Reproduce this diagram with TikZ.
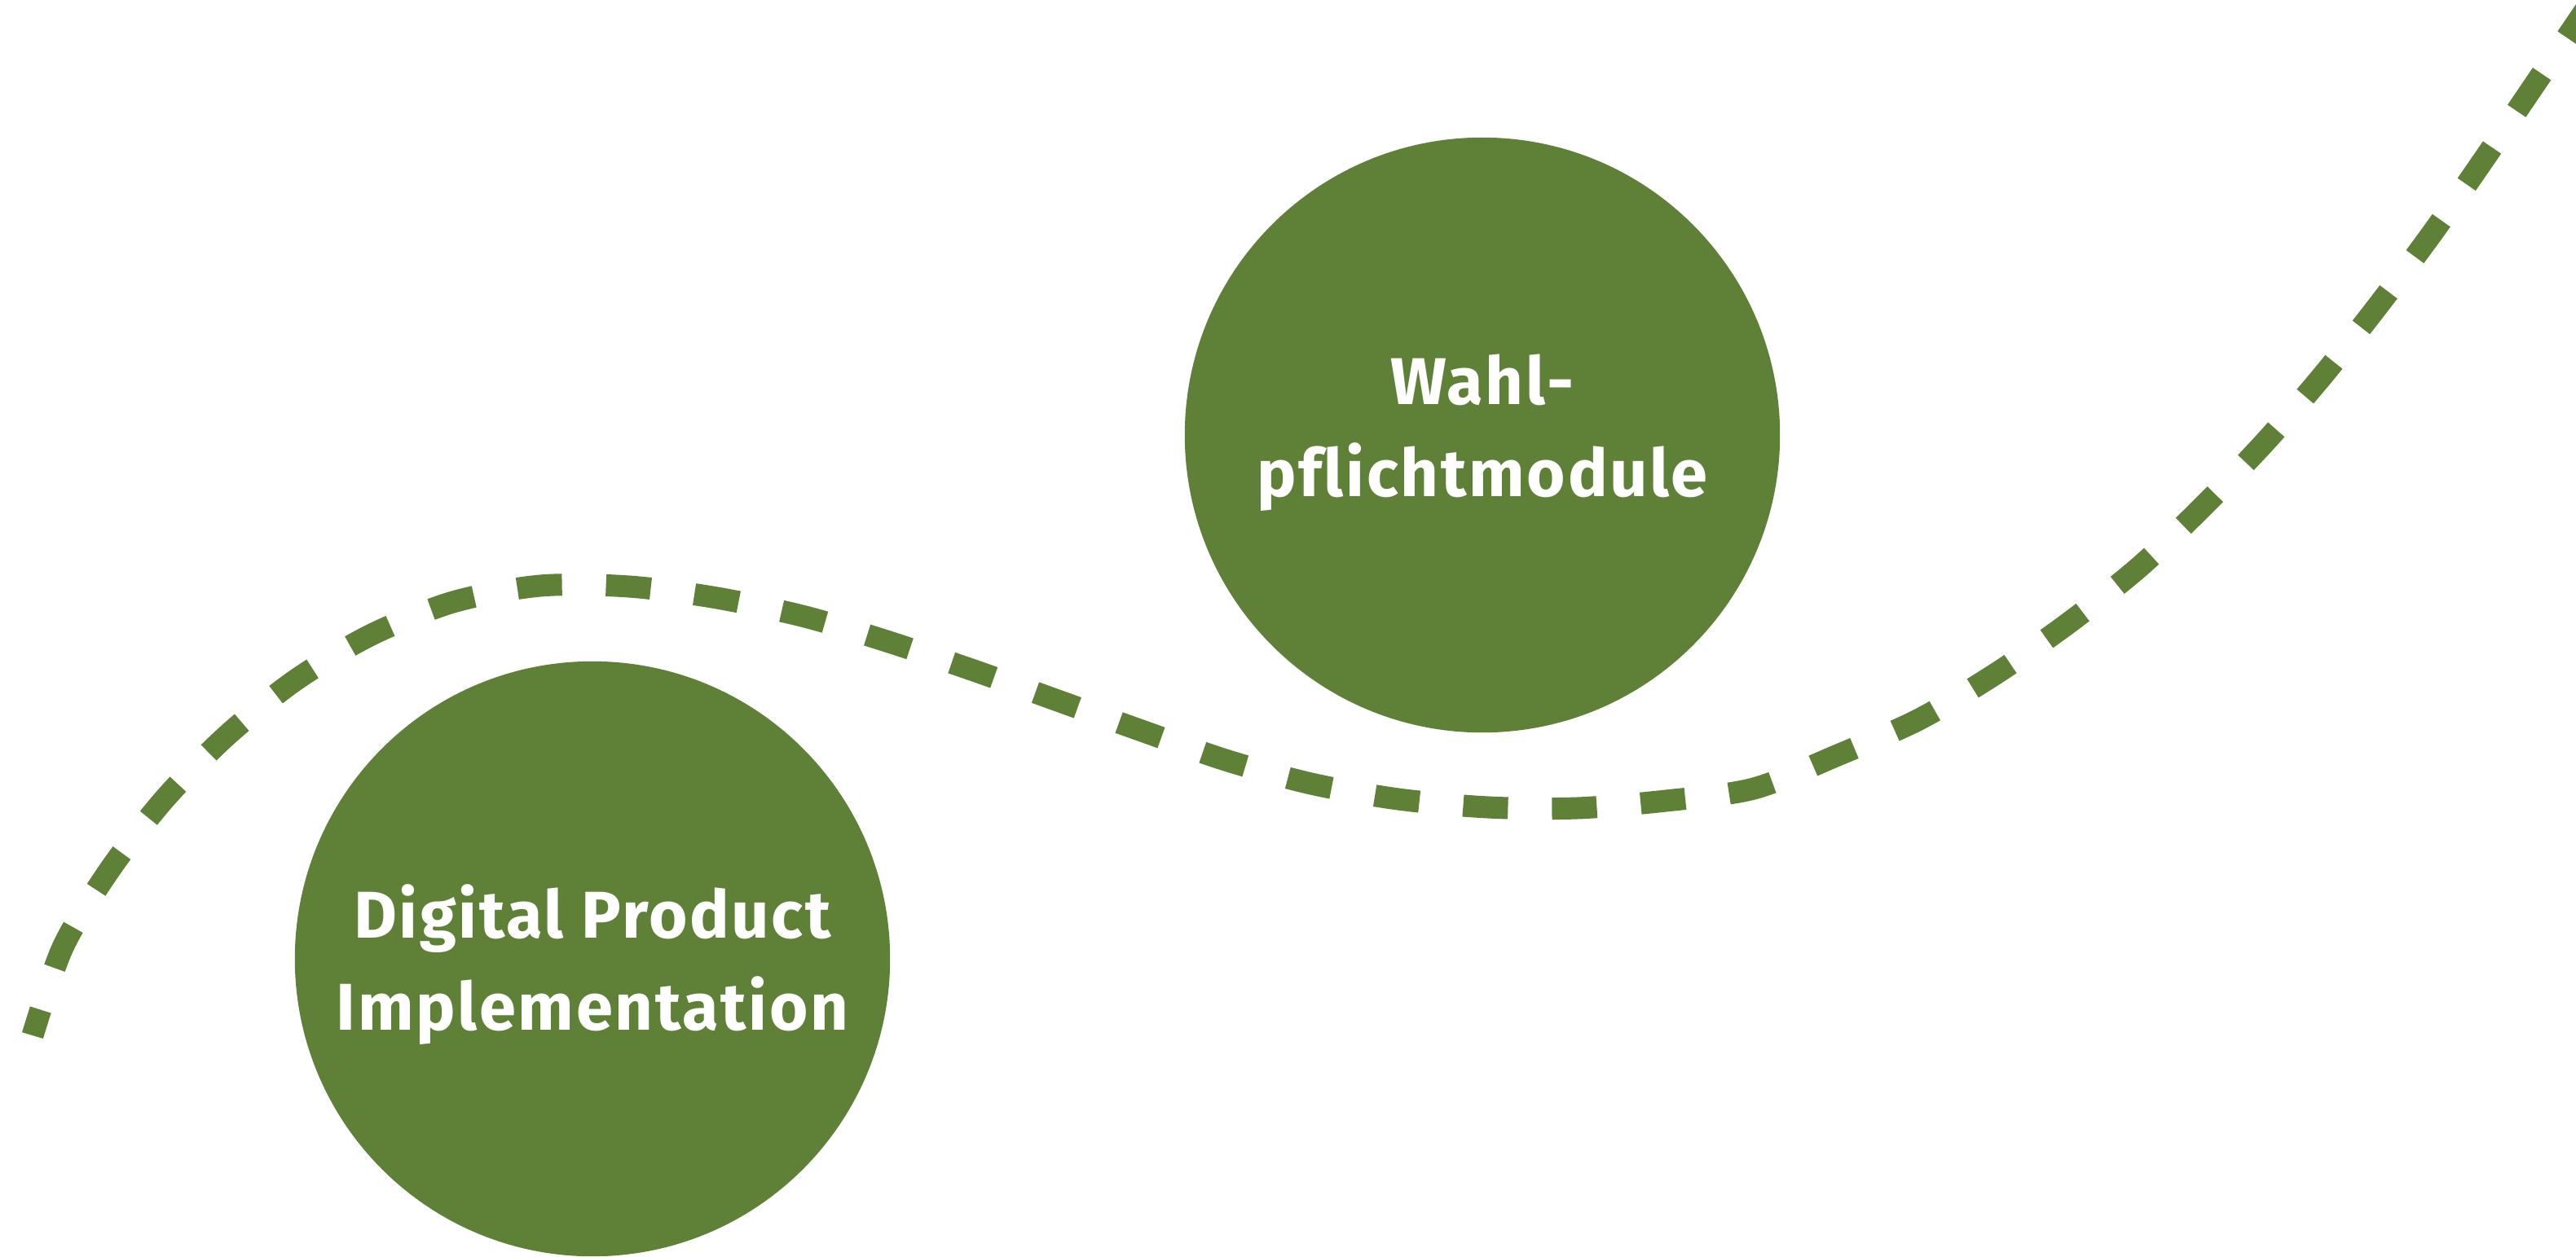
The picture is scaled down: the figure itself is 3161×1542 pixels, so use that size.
\documentclass[tikz,border=0pt]{standalone}
\usepackage{fontspec}
\newfontfamily\labfont{Fira Sans}[LetterSpace=3.3, Ligatures=CommonOff]
\definecolor{leaf}{HTML}{5F8137}
\tikzset{
  bubble/.style={circle, fill=leaf, draw=none, minimum size=7.3cm, inner sep=0pt},
  lbl/.style={text=white, align=center, inner sep=0pt,
    font={\labfont\bfseries\fontsize{23.1pt}{31.9pt}\selectfont}},
  trail/.style={draw=leaf, line width=0.27cm, line cap=butt,
    dash pattern=on 0.55cm off 0.54cm, dash phase=0.22cm}
}
\begin{document}
\begin{tikzpicture}[x=0.01cm, y=-0.01cm]
\useasboundingbox (0,0) rectangle (3161,1542);
\clip (0,0) rectangle (3161,1542);
\fill[white] (0,0) rectangle (3161,1542);
\draw[trail] plot[smooth, tension=0.5] coordinates {
  (40,1271) (77,1163) (133,1070) (200,983) (276,905) (361,836) (454,780)
  (556,739) (663,719) (772,720) (880,734) (988,757) (1091,788) (1195,823)
  (1298,860) (1401,897) (1504,933) (1609,962) (1716,981) (1826,991)
  (1935,992) (2044,983) (2152,968) (2255,927) (2355,883) (2449,827)
  (2538,765) (2624,697) (2703,622) (2780,542) (2851,460) (2919,374)
  (2984,287) (3047,197) (3108,107) (3200,-28)};
\node[bubble] (wahl) at (1819,534) {};
\node[bubble] (dpi) at (727,1177) {};
\node[lbl, anchor=base] (wahltext) at (1819,609) {Wahl-\\pflichtmodule};
\node[lbl, anchor=base] (dpitext) at (727,1264) {Digital Product\\Implementation};
\end{tikzpicture}
\end{document}
